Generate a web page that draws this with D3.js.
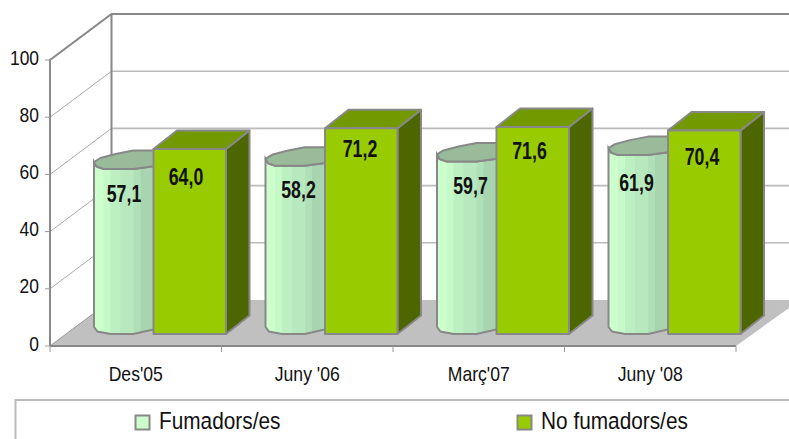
<!DOCTYPE html>
<html><head><meta charset="utf-8">
<script src="https://cdn.jsdelivr.net/npm/d3@7"></script>
<style>
html,body{margin:0;padding:0;background:#fff;overflow:hidden}
svg{display:block}
text{font-family:"Liberation Sans",Arial,sans-serif;fill:#111}
</style></head><body>
<svg id="c" width="789" height="439"></svg>
<script>
const categories = ["Des'05", "Juny '06", "Març'07", "Juny '08"];
const seriesNames = ["Fumadors/es", "No fumadors/es"];
const fumadors = [57.1, 58.2, 59.7, 61.9];
const noFumadors = [64.0, 71.2, 71.6, 70.4];
const yTicks = [0, 20, 40, 60, 80, 100];
const valueLabel = v => v.toFixed(1).replace(".", ",");

// layout, separate from the data
const W = 789, H = 439;
const depthX = 61.5, depthY = -46;
const x = d3.scaleBand().domain(categories).range([50, 736]);
const y = d3.scaleLinear().domain([0, 100]).range([346, 60]);
const barY = d3.scaleLinear().domain([0, 100]).range([334, 45]);
const greenDX = 23.5, greenDY = -18.5, greenOff = 103.5, greenW = 72.5, cylOff = 43.5;
const labelDyCyl = [33.5, 32, 32.5, 36];
const labelDyGreen = [36, 29, 32, 34];
const labelCxCyl = [30.5, 33.5, 34, 28.5];
const labelCxGreen = [32.5, 35, 33, 34];
const cylBands = [[0,10,"#ccffcc"],[10,17,"#c6f9c8"],[17,27,"#bcefc2"],[27,40,"#b8e8be"],[40,47,"#b0e0b7"],[47,62,"#a8d5b0"]];
const grey = "#888";
// narrowed text: the reference uses a condensed face
const squeeze = (sel, fx, fy, sx) => sel.attr("transform", (d,i) => `translate(${fx(d,i)},${fy(d,i)}) scale(${sx},1)`);

const svg = d3.select("#c");
const defs = svg.append("defs");

// walls
const floorFill = [[x.range()[0], y(0)], [x.range()[0]+depthX, y(0)+depthY], [W+2, y(0)+depthY], [W+2, y(0)+depthY+6.5], [x.range()[1], y(0)]];
svg.append("polygon").attr("points", floorFill.join(" ")).attr("fill", "#c0c0c0");

const gridV = yTicks.filter(t => t > 0 && t < 100);
svg.append("g").selectAll("line.back").data(gridV).join("line")
  .attr("x1", x.range()[0]+depthX).attr("x2", W)
  .attr("y1", d => y(d)+depthY).attr("y2", d => y(d)+depthY)
  .attr("stroke", "#bbb").attr("stroke-width", 1.6);
svg.append("g").selectAll("line.side").data(gridV).join("line")
  .attr("x1", x.range()[0]).attr("x2", x.range()[0]+depthX)
  .attr("y1", d => y(d)).attr("y2", d => y(d)+depthY)
  .attr("stroke", "#aaa").attr("stroke-width", 1);
svg.append("line").attr("x1", x.range()[0]).attr("x2", x.range()[0]+depthX)
  .attr("y1", y(0)).attr("y2", y(0)+depthY).attr("stroke", "#999").attr("stroke-width", 1);

const frame = [[x.range()[0], y(0)], [x.range()[0], y(100)], [x.range()[0]+depthX, y(100)+depthY], [W+2, y(100)+depthY]];
svg.append("polyline").attr("points", frame.join(" ")).attr("fill", "none").attr("stroke", grey).attr("stroke-width", 2);
svg.append("line").attr("x1", x.range()[0]+depthX).attr("x2", x.range()[0]+depthX)
  .attr("y1", y(100)+depthY).attr("y2", y(0)+depthY).attr("stroke", grey).attr("stroke-width", 2);
svg.append("line").attr("x1", x.range()[0]).attr("x2", x.range()[1])
  .attr("y1", y(0)).attr("y2", y(0)).attr("stroke", grey).attr("stroke-width", 2);

// axes
const tickEdges = [...categories.map(c => x(c)), x.range()[1]];
svg.append("g").selectAll("line").data(tickEdges).join("line")
  .attr("x1", d => d).attr("x2", d => d).attr("y1", y(0)).attr("y2", y(0)+6)
  .attr("stroke", "#999").attr("stroke-width", 1);
svg.append("g").selectAll("line").data(yTicks).join("line")
  .attr("x1", x.range()[0]-5).attr("x2", x.range()[0]).attr("y1", d => y(d)).attr("y2", d => y(d))
  .attr("stroke", "#999").attr("stroke-width", 1);
svg.append("g").selectAll("text").data(yTicks).join("text")
  .call(squeeze, () => 39, d => y(d)+4.5, 0.83).attr("text-anchor", "end")
  .attr("font-size", 21).text(d => d);
svg.append("g").selectAll("text").data(categories).join("text")
  .call(squeeze, d => x(d)+x.bandwidth()*0.5, () => 381, 0.88).attr("text-anchor", "middle")
  .attr("font-size", 20).text(d => d);

// cylinders: outline offsets relative to left edge and to top/bottom levels
const topOutline = [[0.5,-7],[7,-11],[22,-15],[40,-18.5],[62,-18.5],[62,-3],[40,0],[10,0],[3,-2.5]];
const botCurve = [[62,-5],[40,0],[17,0],[4,-2.5],[0.5,-7]];
const line = d3.line();
function bodyPath(cx, top, bot) {
  return line([[cx+0.5, top-7], [cx+3, top-2.5], [cx+10, top], [cx+40, top], [cx+62, top-3],
    ...botCurve.map(p => [cx+p[0], bot+p[1]])]) + "Z";
}
const cyl = svg.append("g").selectAll("g").data(fumadors).join("g");
cyl.each(function(v, i) {
  const g = d3.select(this);
  const cx = x(categories[i]) + cylOff, top = barY(v), bot = barY(0);
  const id = "cy" + i;
  defs.append("clipPath").attr("id", id).append("path").attr("d", bodyPath(cx, top, bot));
  g.append("g").attr("clip-path", `url(#${id})`).selectAll("rect").data(cylBands).join("rect")
    .attr("x", b => cx + b[0]).attr("width", b => b[1]-b[0]+0.5)
    .attr("y", top-20).attr("height", bot-top+25).attr("fill", b => b[2]);
  g.append("path").attr("d", bodyPath(cx, top, bot)).attr("fill", "none").attr("stroke", grey).attr("stroke-width", 2);
  g.append("path").attr("d", line(topOutline.map(p => [cx+p[0], top+p[1]])) + "Z")
    .attr("fill", "#99bb99").attr("stroke", grey).attr("stroke-width", 2).attr("stroke-linejoin", "round");
});

// boxes
const box = svg.append("g").selectAll("g").data(noFumadors).join("g");
box.each(function(v, i) {
  const g = d3.select(this);
  const l = x(categories[i]) + greenOff, r = l + greenW, t = barY(v), b = barY(0);
  const st = s => s.attr("stroke", grey).attr("stroke-width", 2).attr("stroke-linejoin", "round");
  g.append("polygon").attr("points", [[r,t],[r+greenDX,t+greenDY],[r+greenDX,b+greenDY],[r,b]].join(" ")).attr("fill", "#4d6600").call(st);
  g.append("polygon").attr("points", [[l,t],[l+greenDX,t+greenDY],[r+greenDX,t+greenDY],[r,t]].join(" ")).attr("fill", "#739900").call(st);
  g.append("rect").attr("x", l).attr("y", t).attr("width", greenW).attr("height", b-t).attr("fill", "#99cc00").call(st);
});

// value labels
const vl = svg.append("g").attr("font-size", 23).attr("font-weight", "bold").attr("text-anchor", "middle");
vl.selectAll("text").data(fumadors).join("text")
  .call(squeeze, (d,i) => x(categories[i]) + cylOff + labelCxCyl[i], (d,i) => barY(d) + labelDyCyl[i], 0.77).text(valueLabel);
const vl2 = svg.append("g").attr("font-size", 23).attr("font-weight", "bold").attr("text-anchor", "middle");
vl2.selectAll("text").data(noFumadors).join("text")
  .call(squeeze, (d,i) => x(categories[i]) + greenOff + labelCxGreen[i], (d,i) => barY(d) + labelDyGreen[i], 0.77).text(valueLabel);

// legend
svg.append("rect").attr("x", 15.5).attr("y", 400).attr("width", W).attr("height", 60)
  .attr("fill", "#fff").attr("stroke", "#bbb").attr("stroke-width", 2);
const legX = [135.5, 517.5], legFill = ["#ccffcc", "#99cc00"];
const leg = svg.append("g").selectAll("g").data(seriesNames).join("g");
leg.append("rect").attr("x", (d,i) => legX[i]).attr("y", 415.5).attr("width", 14).attr("height", 14)
  .attr("fill", (d,i) => legFill[i]).attr("stroke", grey).attr("stroke-width", 2);
leg.append("text").call(squeeze, (d,i) => legX[i]+23.5, () => 429, 0.85).attr("font-size", 24.5).text(d => d);
</script>
</body></html>
